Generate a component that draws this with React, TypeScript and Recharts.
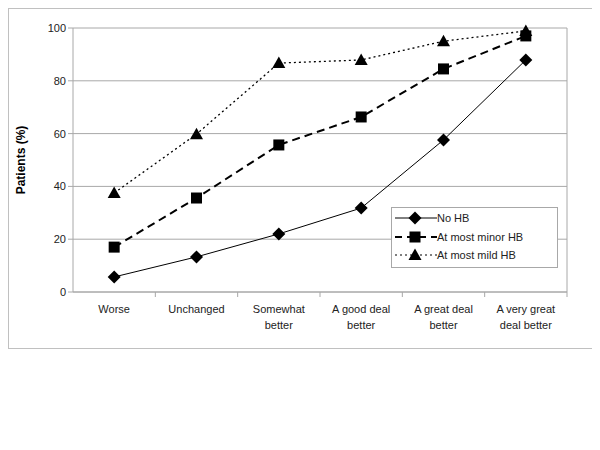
import React from "react";
import { LineChart, Line, XAxis, YAxis, CartesianGrid } from "recharts";

const categories = ["Worse", "Unchanged", "Somewhat better", "A good deal better", "A great deal better", "A very great deal better"];
const tickLabels = [["Worse"], ["Unchanged"], ["Somewhat", "better"], ["A good deal", "better"], ["A great deal", "better"], ["A very great", "deal better"]];
const noHB = [5.7, 13.3, 22, 31.8, 57.6, 87.9];
const minorHB = [17, 35.6, 55.7, 66.3, 84.5, 97];
const mildHB = [37.5, 59.8, 86.7, 87.9, 95, 98.9];
const yTicks = [0, 20, 40, 60, 80, 100];
const seriesNames = ["No HB", "At most minor HB", "At most mild HB"];

const data = categories.map((c, i) => ({ cat: c, noHB: noHB[i], minorHB: minorHB[i], mildHB: mildHB[i] }));

const FONT = "'Liberation Sans', Arial, sans-serif";
const GRID = "#a8a8a8";

const Diamond = ({ cx, cy }: any) => (
  <path d={`M${cx},${cy - 6.5}L${cx + 6.5},${cy}L${cx},${cy + 6.5}L${cx - 6.5},${cy}Z`} fill="#000" />
);
const Square = ({ cx, cy }: any) => <rect x={cx - 5.5} y={cy - 5.5} width={11} height={11} fill="#000" />;
const Triangle = ({ cx, cy }: any) => (
  <path d={`M${cx},${cy - 6.5}L${cx + 6.5},${cy + 5}L${cx - 6.5},${cy + 5}Z`} fill="#000" />
);

const BAND = 494 / 6;

const XTick = ({ x, y, payload, index }: any) => {
  const lines = tickLabels[index] || [payload.value];
  return (
    <g>
      <line x1={x + BAND / 2} y1={y - 8} x2={x + BAND / 2} y2={y - 3} stroke={GRID} />
      {lines.map((l: string, i: number) => (
        <text key={i} x={x} y={y + 13 + i * 16} textAnchor="middle" fontSize={11} fontFamily={FONT} fill="#222">
          {l}
        </text>
      ))}
    </g>
  );
};

const LegendBox = () => {
  const items = [
    { name: seriesNames[0], dash: undefined, w: 1, M: Diamond },
    { name: seriesNames[1], dash: "7 5", w: 2, M: Square },
    { name: seriesNames[2], dash: "2 3", w: 1.2, M: Triangle },
  ];
  return (
    <div style={{ position: "absolute", left: 382, top: 198, border: "1px solid #a8a8a8", background: "#fff", width: 167, height: 61, boxSizing: "border-box", padding: "1px 0 0 0" }}>
      {items.map((it, i) => (
        <div key={i} style={{ display: "flex", alignItems: "center", height: 18.5 }}>
          <svg width={42} height={16} style={{ marginLeft: 3 }}>
            <line x1={0} y1={8} x2={42} y2={8} stroke="#000" strokeWidth={it.w} strokeDasharray={it.dash} />
            <it.M cx={20} cy={8} />
          </svg>
          <span style={{ fontFamily: FONT, fontSize: 11, color: "#222", marginLeft: 0 }}>{it.name}</span>
        </div>
      ))}
    </div>
  );
};

export default function App() {
  return (
    <div style={{ position: "relative", width: 584, height: 339, border: "1px solid #c0c0c0" }}>
      <LineChart width={584} height={339} data={data} margin={{ top: 19, right: 26, left: 19, bottom: 16 }}>
        <CartesianGrid stroke={GRID} vertical={true} verticalPoints={[558]} horizontal={true} />
        <XAxis
          dataKey="cat"
          interval={0}
          height={40}
          padding={{ left: BAND / 2, right: BAND / 2 }}
          axisLine={{ stroke: GRID }}
          tickLine={false}
          tick={<XTick />}
        />
        <YAxis
          domain={[0, 100]}
          ticks={yTicks}
          width={45}
          axisLine={{ stroke: GRID }}
          tickLine={{ stroke: GRID }}
          tickSize={5}
          tick={{ fontSize: 11, fontFamily: FONT, fill: "#222" }}
          label={{ value: "Patients (%)", angle: -90, position: "insideLeft", offset: -7, style: { fontSize: 12, fontWeight: "bold", fontFamily: FONT, fill: "#000", textAnchor: "middle" } }}
        />
        <Line dataKey="noHB" name={seriesNames[0]} stroke="#000" strokeWidth={1} dot={<Diamond />} isAnimationActive={false} />
        <Line dataKey="minorHB" name={seriesNames[1]} stroke="#000" strokeWidth={2} strokeDasharray="8 5" dot={<Square />} isAnimationActive={false} />
        <Line dataKey="mildHB" name={seriesNames[2]} stroke="#000" strokeWidth={1.3} strokeDasharray="2 3" dot={<Triangle />} isAnimationActive={false} />
      </LineChart>
      <LegendBox />
    </div>
  );
}
